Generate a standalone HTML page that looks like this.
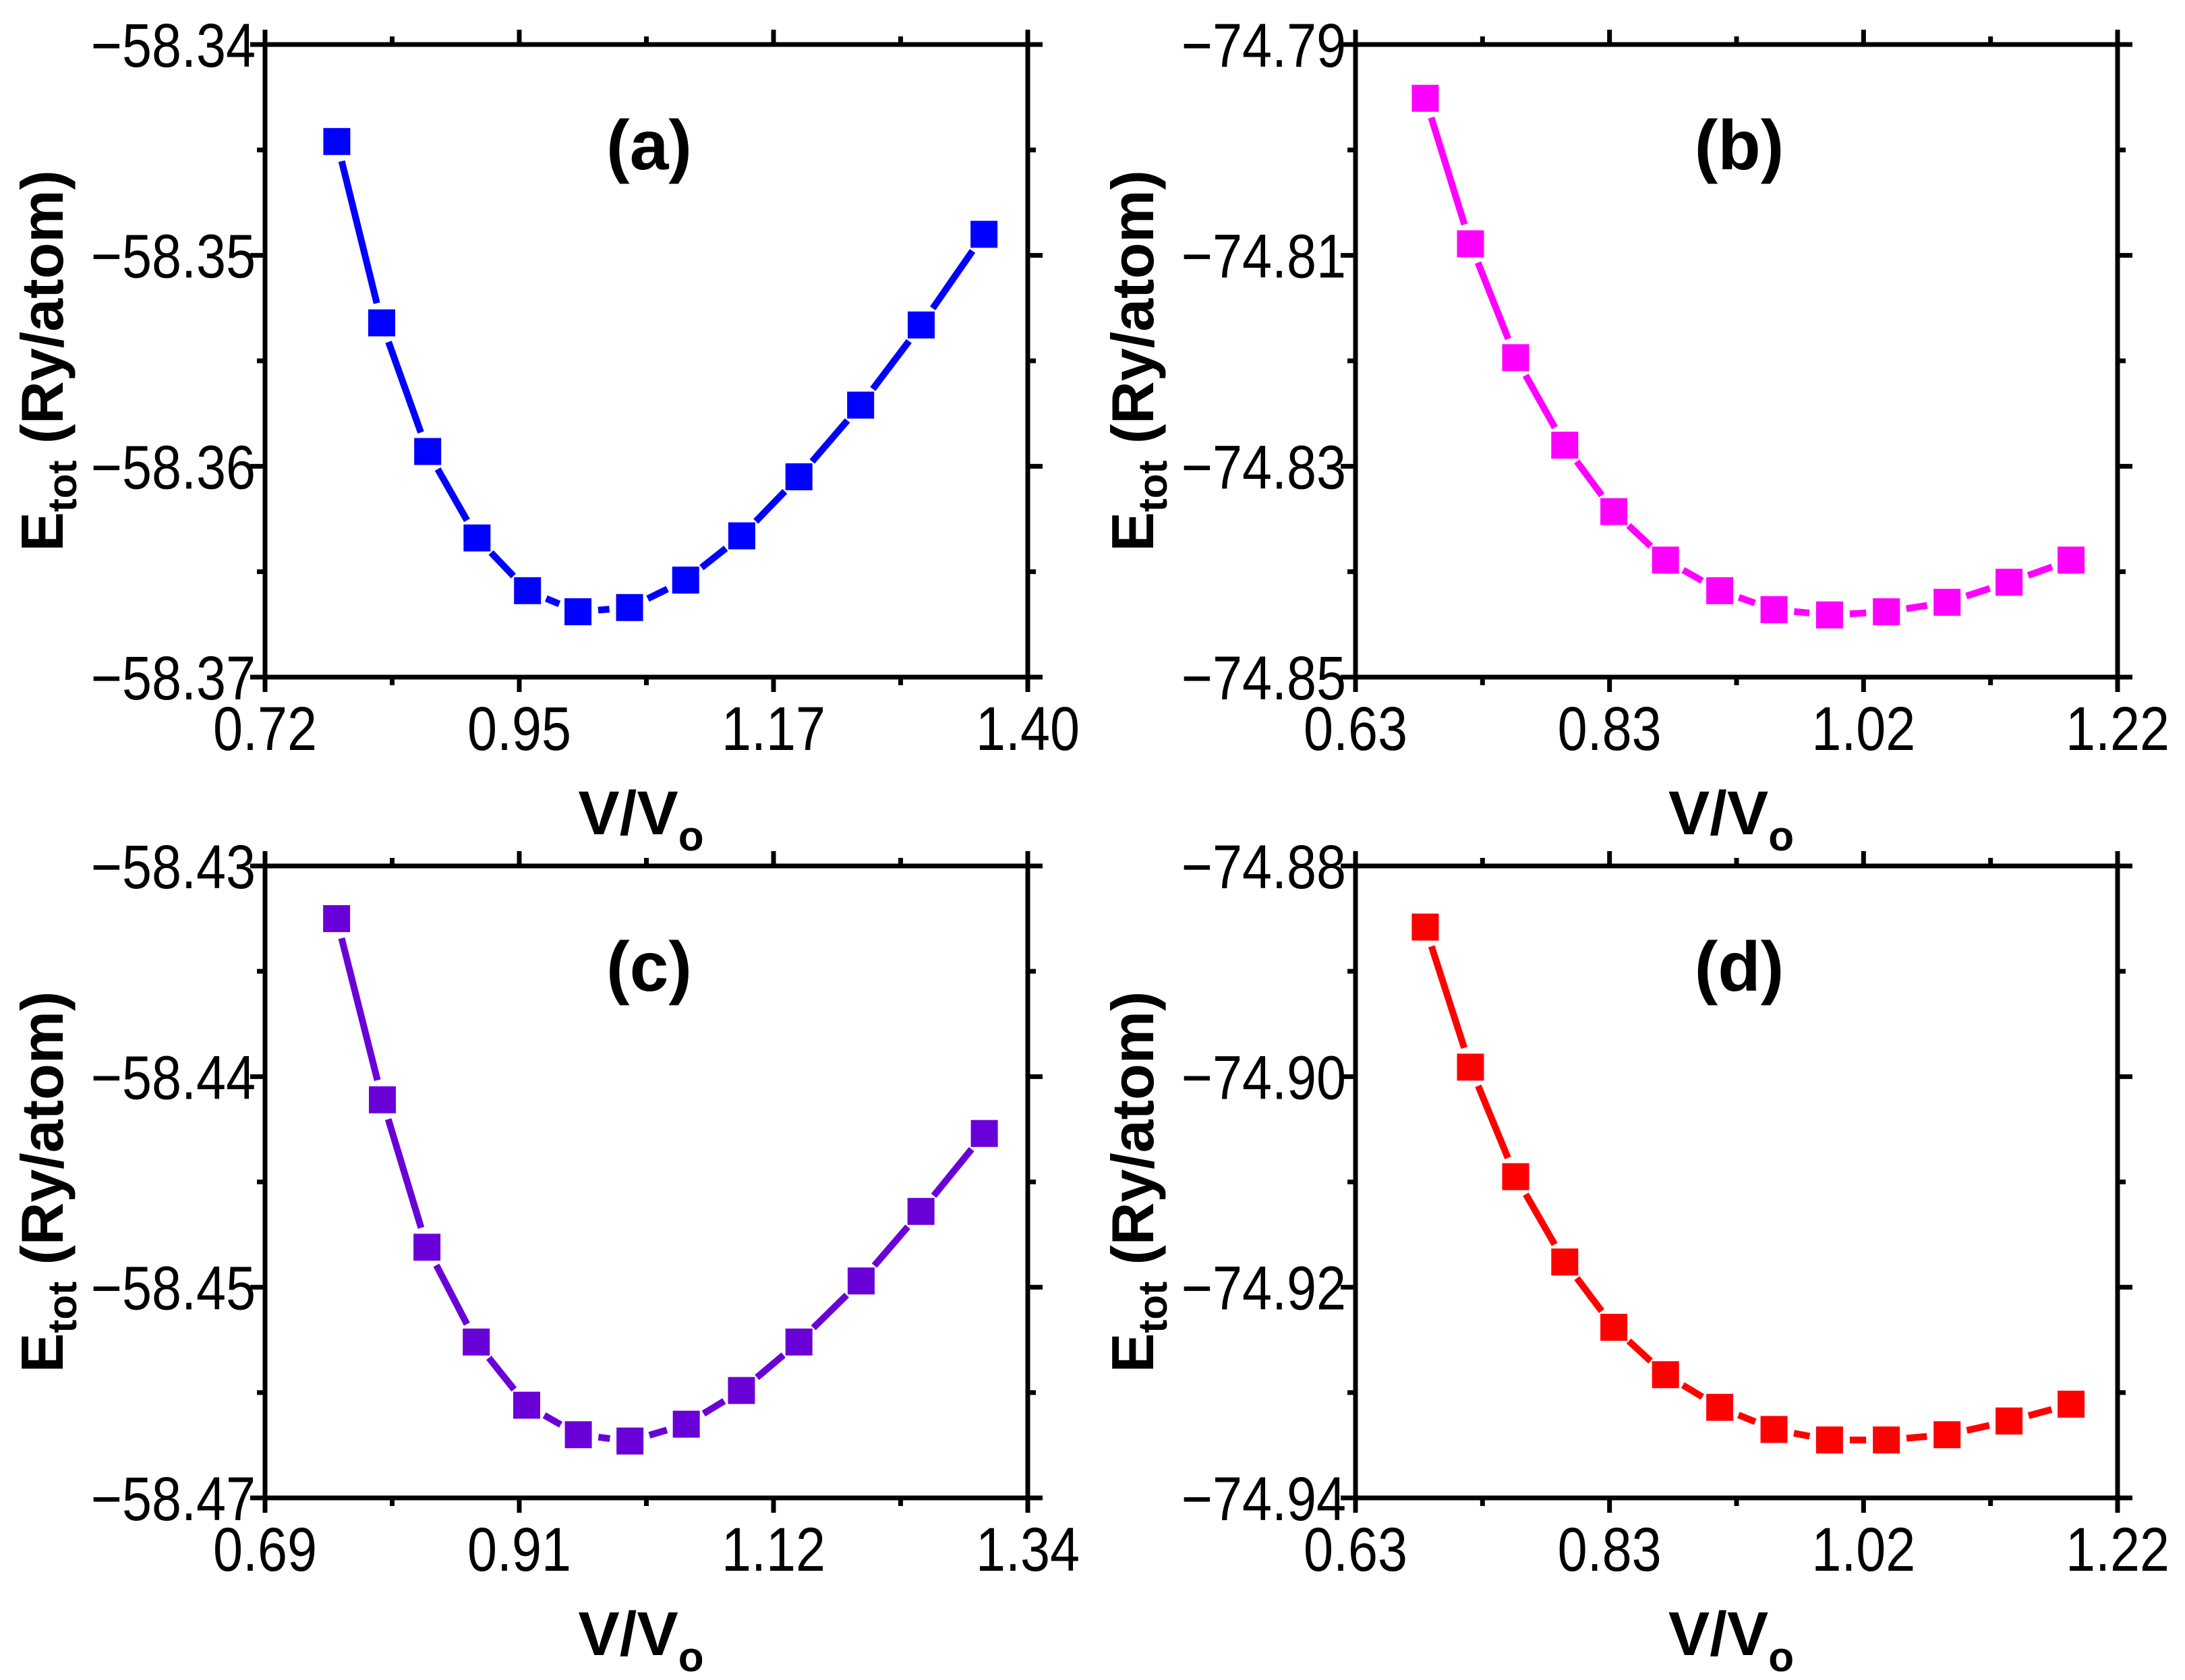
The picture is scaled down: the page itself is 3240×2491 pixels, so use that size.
<!DOCTYPE html>
<html><head><meta charset="utf-8">
<style>
html,body{margin:0;padding:0;background:#fff;}
svg{display:block;}
text{font-family:"Liberation Sans",Arial,sans-serif;}
</style></head>
<body>
<svg id="fig" width="3240" height="2491" viewBox="0 0 3240 2491" xmlns="http://www.w3.org/2000/svg"></svg>
<script>
// ---- data (a) ----
const xA = [0.784,0.824,0.865,0.909,0.954,0.999,1.045,1.095,1.145,1.196,1.251,1.305,1.361];
const yA = [-58.3446,-58.3532,-58.3593,-58.3634,-58.3659,-58.3669,-58.3667,-58.3654,-58.3633,-58.3605,-58.3571,-58.3533,-58.3490];
const xTicksA = ["0.72","0.95","1.17","1.40"];
const yTicksA = ["\u221258.34","\u221258.35","\u221258.36","\u221258.37"];
// ---- data (b) ----
const xB = [0.684,0.719,0.754,0.792,0.830,0.870,0.912,0.954,0.997,1.041,1.088,1.136,1.184];
const yB = [-74.7951,-74.8089,-74.8197,-74.8280,-74.8343,-74.8389,-74.8418,-74.8436,-74.8441,-74.8438,-74.8429,-74.8410,-74.8389];
const xTicksB = ["0.63","0.83","1.02","1.22"];
const yTicksB = ["\u221274.79","\u221274.81","\u221274.83","\u221274.85"];
// ---- data (c) ----
const xC = [0.751,0.790,0.828,0.870,0.913,0.957,1.001,1.049,1.096,1.145,1.198,1.249,1.303];
const yC = [-58.4325,-58.4411,-58.4481,-58.4526,-58.4556,-58.4570,-58.4573,-58.4565,-58.4549,-58.4526,-58.4497,-58.4464,-58.4427];
const xTicksC = ["0.69","0.91","1.12","1.34"];
const yTicksC = ["\u221258.43","\u221258.44","\u221258.45","\u221258.47"];
// ---- data (d) ----
const xD = [0.684,0.719,0.754,0.792,0.830,0.870,0.912,0.954,0.997,1.041,1.088,1.136,1.184];
const yD = [-74.8858,-74.8991,-74.9095,-74.9176,-74.9238,-74.9283,-74.9314,-74.9335,-74.9345,-74.9345,-74.9340,-74.9327,-74.9311];
const xTicksD = ["0.63","0.83","1.02","1.22"];
const yTicksD = ["\u221274.88","\u221274.90","\u221274.92","\u221274.94"];

const NS = "http://www.w3.org/2000/svg";
const svg = document.getElementById('fig');
function mk(tag, attrs, parent){
  const e = document.createElementNS(NS, tag);
  for (const k in attrs) e.setAttribute(k, attrs[k]);
  (parent||svg).appendChild(e);
  return e;
}

const panels = [
  {id:'a', xs:xA, ys:yA, xt:xTicksA, yt:yTicksA, xd:[0.72,1.40], yd:[-58.34,-58.37], color:'#0000ff', L:393, R:1524, T:66, B:1004},
  {id:'b', xs:xB, ys:yB, xt:xTicksB, yt:yTicksB, xd:[0.63,1.22], yd:[-74.79,-74.85], color:'#ff00ff', L:2010, R:3140, T:66, B:1004},
  {id:'c', xs:xC, ys:yC, xt:xTicksC, yt:yTicksC, xd:[0.69,1.34], yd:[-58.43,-58.46], color:'#6a00d8', L:393, R:1524, T:1284, B:2221},
  {id:'d', xs:xD, ys:yD, xt:xTicksD, yt:yTicksD, xd:[0.63,1.22], yd:[-74.88,-74.94], color:'#ff0000', L:2010, R:3140, T:1284, B:2221}
];

panels.forEach(p => {
  const g = mk('g', {});
  
  
  const sx = v => p.L + (v - p.xd[0]) / (p.xd[1] - p.xd[0]) * (p.R - p.L);
  const sy = v => p.T + (v - p.yd[0]) / (p.yd[1] - p.yd[0]) * (p.B - p.T);

  const tg = mk('g', {stroke:'#000','stroke-width':7}, g);
  
  
  for (let i = 0; i <= 6; i++) {
    const major = i % 2 === 0;
    const len = major ? 22 : 12;
    const x = p.L + i * (p.R - p.L) / 6;
    const y = p.T + i * (p.B - p.T) / 6;
    mk('line', {x1:x, y1:p.B, x2:x, y2:p.B + len}, tg);
    mk('line', {x1:x, y1:p.T, x2:x, y2:p.T - len}, tg);
    mk('line', {x1:p.L, y1:y, x2:p.L - len, y2:y}, tg);
    mk('line', {x1:p.R, y1:y, x2:p.R + len, y2:y}, tg);
  }
  const fr = mk('rect', {x:p.L, y:p.T, width:p.R - p.L, height:p.B - p.T, fill:'none', stroke:'#000', 'stroke-width':7}, g);
  
  

  p.xt.forEach((t, i) => {
    const x = p.L + i * (p.R - p.L) / 3;
    const y = p.B + 108;
    const e = mk('text', {x:x, y:y, 'font-size':92, 'text-anchor':'middle', fill:'#000', transform:`translate(${x} 0) scale(0.86 1) translate(${-x} 0)`}, g);
    e.textContent = t;
    
    
  });
  p.yt.forEach((t, i) => {
    const y = p.T + i * (p.B - p.T) / 3;
    const x = p.L - 14;
    const e = mk('text', {x:x, y:y + 33, 'font-size':92, 'text-anchor':'end', fill:'#000', transform:`translate(${x} 0) scale(0.86 1) translate(${-x} 0)`}, g);
    e.textContent = t;
    
    
  });

  const cx = (p.L + p.R) / 2 - 8;
  const xt = mk('text', {x:cx, y:p.B + 233, 'font-size':92, 'font-weight':'bold', 'text-anchor':'middle', fill:'#000'}, g);
  xt.innerHTML = 'V/V<tspan font-size="62" dy="24">o</tspan>';
  
  
  const cy = (p.T + p.B) / 2;
  const tx = p.L - 300;
  const yt = mk('text', {x:tx, y:cy, 'font-size':88, 'font-weight':'bold', 'text-anchor':'middle', fill:'#000', transform:`rotate(-90 ${tx} ${cy})`}, g);
  yt.innerHTML = 'E<tspan font-size="60" dy="20">tot</tspan><tspan dy="-20"> (Ry/atom)</tspan>';
  
  

  const pl = mk('text', {x:cx + 12, y:p.T + 185, 'font-size':104, 'font-weight':'bold', 'text-anchor':'middle', fill:'#000'}, g);
  pl.textContent = '(' + p.id + ')';
  
  

  const lg = mk('g', {stroke:p.color, 'stroke-width':10, fill:'none'}, g);
  
  
  for (let i = 0; i < p.xs.length - 1; i++) {
    const x1 = sx(p.xs[i]), y1 = sy(p.ys[i]), x2 = sx(p.xs[i+1]), y2 = sy(p.ys[i+1]);
    const dx = x2 - x1, dy = y2 - y1, d = Math.hypot(dx, dy);
    const gap = 30;
    if (d <= 2 * gap) continue;
    const ux = dx / d, uy = dy / d;
    const seg = mk('line', {x1:x1 + ux*gap, y1:y1 + uy*gap, x2:x2 - ux*gap, y2:y2 - uy*gap}, lg);
    
    
  }
  const ms = 40;
  p.xs.forEach((v, i) => {
    const r = mk('rect', {x:sx(v) - ms/2, y:sy(p.ys[i]) - ms/2, width:ms, height:ms, fill:p.color}, g);
    
    
  });
});
</script>
</body></html>
